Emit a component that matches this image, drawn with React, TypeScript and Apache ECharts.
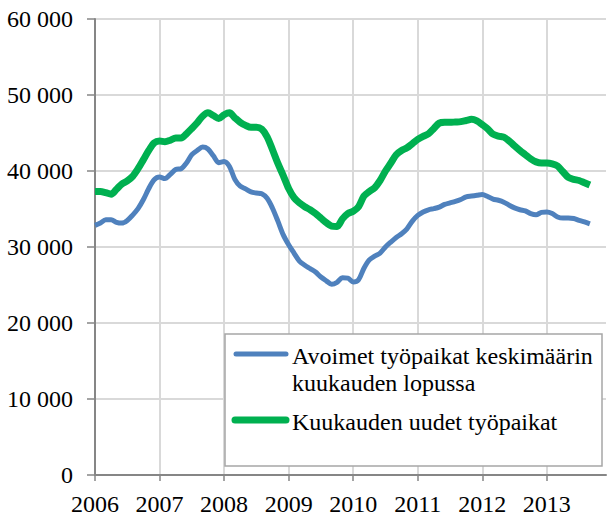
import React, { useEffect, useRef } from "react";
import * as echarts from "echarts";

const years = [2006, 2007, 2008, 2009, 2010, 2011, 2012, 2013];
const months: string[] = [];
years.forEach((y) => {
  for (let m = 1; m <= 12; m++) months.push(`${y}-${m}`);
});

const blueName = "Avoimet työpaikat keskimäärin kuukauden lopussa";
const greenName = "Kuukauden uudet työpaikat";

const blueValues = [
  32850, 33150, 33600, 33600, 33250, 33150, 33500, 34200, 35050, 36250, 37700, 38850,
  39200, 39000, 39550, 40200, 40300, 41050, 42150, 42700, 43150, 42900, 42000, 41100,
  41250, 40600, 38900, 38000, 37650, 37250, 37100, 37000, 36400, 35100, 33400, 31600,
  30300, 29200, 28150, 27600, 27150, 26700, 26050, 25550, 25100, 25350, 25950, 25900,
  25400, 25700, 27200, 28300, 28800, 29200, 30000, 30650, 31250, 31750, 32400, 33400,
  34150, 34600, 34900, 35050, 35250, 35600, 35800, 36000, 36250, 36600, 36700, 36800,
  36900, 36650, 36300, 36150, 35900, 35500, 35150, 34900, 34750, 34400, 34250, 34550,
  34600, 34400, 33950, 33800, 33800, 33750, 33500, 33300, 33050,
];

const greenValues = [
  37300, 37300, 37150, 36950, 37600, 38300, 38700, 39300, 40300, 41500, 42700, 43700,
  43950, 43850, 44050, 44350, 44350, 44900, 45600, 46350, 47200, 47650, 47300, 46900,
  47400, 47650, 47000, 46400, 46000, 45750, 45750, 45500, 44500, 42800, 41000, 39400,
  37700, 36500, 35800, 35300, 34900, 34400, 33800, 33200, 32750, 32700, 33700, 34400,
  34700, 35300, 36700, 37300, 37800, 38750, 40000, 41050, 42150, 42700, 43050, 43600,
  44150, 44550, 44900, 45600, 46300, 46400, 46400, 46450, 46500, 46650, 46800, 46600,
  46100, 45550, 44850, 44600, 44450, 43950, 43300, 42700, 42150, 41600, 41200, 41050,
  41050, 40950, 40650, 39900, 39150, 38900, 38750, 38450, 38150,
];

const FONT = "Liberation Serif";
const FS = 24;
const BLUE = "#4f81bd";
const GREEN = "#00b050";
const AXIS = "#868686";
const GRID = "#d9d9d9";

export default function App() {
  const ref = useRef<HTMLDivElement>(null);
  useEffect(() => {
    if (!ref.current) return;
    const chart = echarts.init(ref.current, undefined, { renderer: "svg" });
    const legendText = (text: string, y: number) => ({
      type: "text",
      x: 292,
      y,
      style: {
        text,
        fontFamily: FONT,
        fontSize: FS,
        fill: "#000",
        verticalAlign: "middle",
        align: "left",
      },
      z: 101,
    });
    chart.setOption({
      animation: false,
      backgroundColor: "#ffffff",
      grid: { left: 95, right: 2, top: 19, bottom: 42 },
      xAxis: {
        type: "category",
        data: months,
        boundaryGap: false,
        axisLine: { lineStyle: { color: AXIS, width: 2 } },
        axisTick: { show: true, interval: 11, length: 6, lineStyle: { color: AXIS, width: 1.5 } },
        axisLabel: {
          interval: 11,
          margin: 17,
          fontFamily: FONT,
          fontSize: FS,
          color: "#000",
          formatter: (v: string) => v.split("-")[0],
        },
        splitLine: { show: true, interval: 11, lineStyle: { color: GRID, width: 2 } },
      },
      yAxis: {
        type: "value",
        min: 0,
        max: 60000,
        interval: 10000,
        axisLine: { show: true, lineStyle: { color: AXIS, width: 2 } },
        axisTick: { show: true, length: 8, lineStyle: { color: AXIS, width: 1.5 } },
        axisLabel: {
          margin: 22,
          fontFamily: FONT,
          fontSize: FS,
          color: "#000",
          formatter: (v: number) => String(v).replace(/\B(?=(\d{3})+(?!\d))/g, " "),
        },
        splitLine: { show: true, lineStyle: { color: GRID, width: 2 } },
      },
      series: [
        {
          name: blueName,
          type: "line",
          data: blueValues,
          showSymbol: false,
          smooth: 0.3,
          silent: true,
          lineStyle: { color: BLUE, width: 5 },
          itemStyle: { color: BLUE },
        },
        {
          name: greenName,
          type: "line",
          data: greenValues,
          showSymbol: false,
          smooth: 0.3,
          silent: true,
          lineStyle: { color: GREEN, width: 7 },
          itemStyle: { color: GREEN },
        },
      ],
      graphic: [
        {
          type: "rect",
          shape: { x: 225, y: 334, width: 377, height: 132 },
          style: { fill: "#ffffff", stroke: "#a6a6a6", lineWidth: 1.5 },
          z: 100,
        },
        {
          type: "line",
          shape: { x1: 236, y1: 354, x2: 286, y2: 354 },
          style: { stroke: BLUE, lineWidth: 5, lineCap: "round" },
          z: 101,
        },
        {
          type: "line",
          shape: { x1: 235, y1: 420, x2: 286, y2: 420 },
          style: { stroke: GREEN, lineWidth: 7, lineCap: "round" },
          z: 101,
        },
        legendText("Avoimet työpaikat keskimäärin", 356),
        legendText("kuukauden lopussa", 383),
        legendText(greenName, 422),
      ],
    });
    return () => chart.dispose();
  }, []);
  return (
    <div
      ref={ref}
      style={{ position: "fixed", left: 0, top: 0, width: 608, height: 517, background: "#fff" }}
    />
  );
}
